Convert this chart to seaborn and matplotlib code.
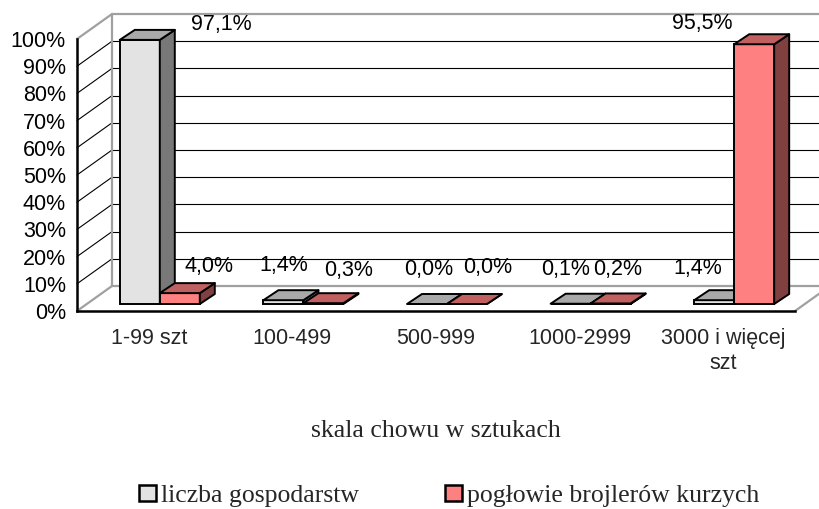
import numpy as np
import pandas as pd
import matplotlib
matplotlib.use("Agg")
import matplotlib.pyplot as plt
from matplotlib.patches import Polygon, Patch
import seaborn as sns

# ---- data ----
categories = ["1-99 szt", "100-499", "500-999", "1000-2999", "3000 i więcej\nszt"]
series_names = ["liczba gospodarstw", "pogłowie brojlerów kurzych"]
farms = [97.1, 1.4, 0.0, 0.1, 1.4]
broilers = [4.0, 0.3, 0.0, 0.2, 95.5]
y_ticks = [0, 10, 20, 30, 40, 50, 60, 70, 80, 90, 100]
x_title = "skala chowu w sztukach"

# ---- styling / layout ----
front_cols = ["#E3E3E3", "#FF8080"]
top_cols = ["#A9A9A9", "#C06060"]
side_cols = ["#787878", "#804040"]
wall_gray = "#A0A0A0"

# label offsets (pixels, from top-centre of bar front face)
lab_dx = [[82, 0, 2, -5, -16], [29, 25, 21, 7, -52]]
lab_dy = [[15, 35, 34, 34, 32], [27, 33, 36, 33.5, 21]]

sns.set_style("white")
plt.rcParams["font.family"] = ["Liberation Sans", "DejaVu Sans"]

W, H = 819, 509
fig = plt.figure(figsize=(W / 100, H / 100), dpi=100)

px_cat = 143.6          # pixels per category
px_pct = 2.72           # pixels per percent
ax_left, ax_right, ax_bottom, ax_top = 77, 819, 311, 5
ax = fig.add_axes([ax_left / W, (H - ax_bottom) / H,
                   (ax_right - ax_left) / W, (ax_bottom - ax_top) / H])

df = pd.DataFrame({
    "kat": categories * 2,
    "val": farms + broilers,
    "seria": [series_names[0]] * 5 + [series_names[1]] * 5,
})

sns.barplot(data=df, x="kat", y="val", hue="seria", order=categories,
            hue_order=series_names, palette=front_cols, width=0.557,
            saturation=1, edgecolor="black", linewidth=1.4, legend=False, ax=ax)

xmax = -0.5 + (ax_right - ax_left) / px_cat
ymax = (ax_bottom - ax_top) / px_pct
ax.set_xlim(-0.5, xmax)
ax.set_ylim(0, ymax)

# depth geometry (data units)
DX, DY = 35 / px_cat, 25 / px_pct          # wall depth
FX, FY = 11 / px_cat, 7 / px_pct           # bar front offset
BX, BY = 15 / px_cat, 10 / px_pct          # bar depth

# walls & gridlines
x0w = -0.5
for k in y_ticks:
    col = wall_gray if k in (0, 100) else "black"
    lw = 1.6 if k in (0, 100) else 0.8
    ax.plot([x0w, x0w + DX], [k, k + DY], color=col, lw=lw, zorder=1, clip_on=False)
    ax.plot([x0w + DX, xmax], [k + DY, k + DY], color=col, lw=lw, zorder=1, clip_on=False)
ax.plot([x0w + DX, x0w + DX], [DY, 100 + DY], color=wall_gray, lw=1.6, zorder=1)
ax.plot([4.5, 4.5 + DX], [0, DY], color=wall_gray, lw=1.6, zorder=1, clip_on=False)

# 3D bars
for si, cont in enumerate(ax.containers):
    z = 3 + si
    for ci, p in enumerate(cont.patches):
        x0 = p.get_x() + FX
        w = p.get_width()
        h = p.get_height()
        p.set_x(x0)
        p.set_y(FY)
        p.set_zorder(z)
        x1 = x0 + w
        y1 = FY + h
        top = Polygon([(x0, y1), (x1, y1), (x1 + BX, y1 + BY), (x0 + BX, y1 + BY)],
                      closed=True, facecolor=top_cols[si], edgecolor="black",
                      lw=1.4, zorder=z, joinstyle="round")
        side = Polygon([(x1, FY), (x1, y1), (x1 + BX, y1 + BY), (x1 + BX, FY + BY)],
                       closed=True, facecolor=side_cols[si], edgecolor="black",
                       lw=1.4, zorder=z, joinstyle="round")
        ax.add_patch(side)
        ax.add_patch(top)
        v = [farms, broilers][si][ci]
        ax.annotate(f"{v:.1f}%".replace(".", ","), xy=(x0 + w / 2, y1),
                    xytext=(lab_dx[si][ci], lab_dy[si][ci]), textcoords="offset pixels",
                    ha="center", va="center", fontsize=15.5, color="black",
                    zorder=10, annotation_clip=False)

# spines / axes
for s in ["top", "right"]:
    ax.spines[s].set_visible(False)
ax.spines["left"].set_bounds(0, 100)
ax.spines["bottom"].set_bounds(-0.5, 4.5)
for s in ["left", "bottom"]:
    ax.spines[s].set_linewidth(1.8)
    ax.spines[s].set_color("black")
    ax.spines[s].set_zorder(8)

ax.set_yticks(y_ticks)
ax.set_yticklabels([f"{t}%" for t in y_ticks], fontsize=15.5)
ax.tick_params(axis="y", direction="out", length=5.5, width=1.6, pad=2.5, colors="black")

ax.set_xticks(np.arange(-0.5, 5, 1))
ax.set_xticklabels([])
ax.set_xticks(range(5), minor=True)
ax.set_xticklabels(categories, minor=True, fontsize=15.5)
ax.tick_params(axis="x", which="major", direction="out", length=6, width=1.6)
ax.tick_params(axis="x", which="minor", length=0, pad=12.5)
ax.set_xlabel("")
ax.set_ylabel("")
ax.grid(False)

fig.text(435.5 / W, 1 - 437 / H, x_title, ha="center", va="baseline",
         fontsize=18.5, family="Liberation Serif")

handles = [Patch(facecolor=front_cols[i], edgecolor="black", lw=1.8, label=series_names[i])
           for i in range(2)]
fig.legend(handles=handles, loc="center left", bbox_to_anchor=(139 / W, 1 - 496 / H),
           ncol=2, frameon=False, borderpad=0, borderaxespad=0,
           handlelength=0.66, handleheight=0.62, handletextpad=0.2,
           columnspacing=3.35, prop={"family": "Liberation Serif", "size": 18.5})

fig.savefig("out.png", dpi=100)
